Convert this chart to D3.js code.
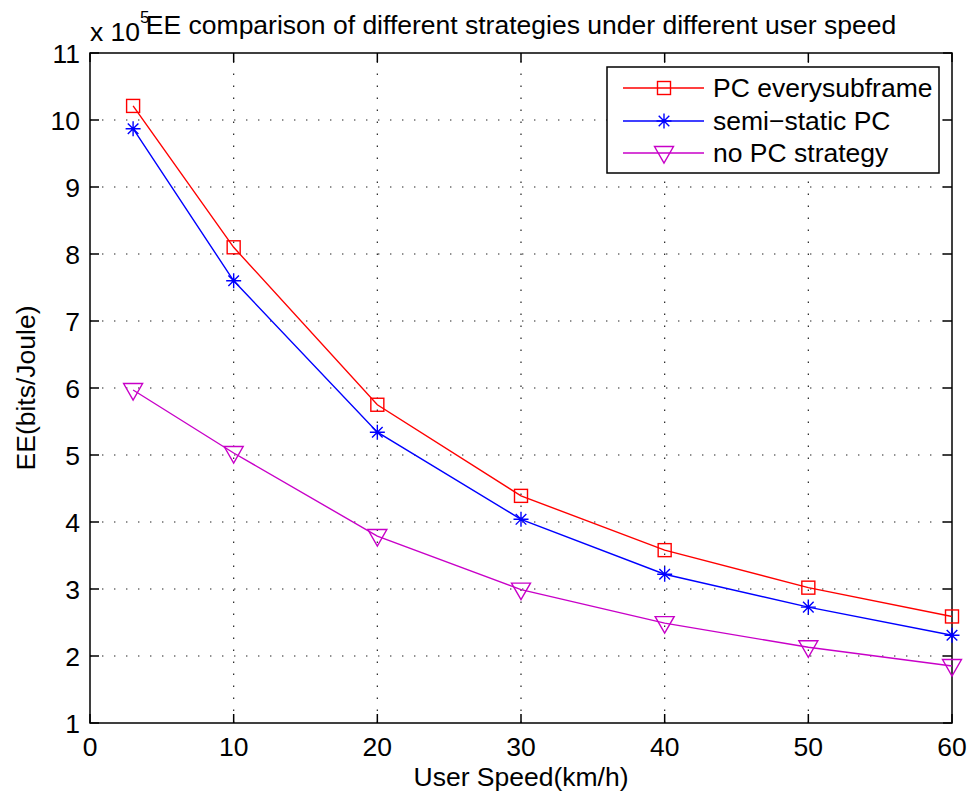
<!DOCTYPE html>
<html>
<head>
<meta charset="utf-8">
<script src="https://cdn.jsdelivr.net/npm/d3@7/dist/d3.min.js"></script>
<style>
  html, body { margin: 0; padding: 0; background: #fff; }
  svg { display: block; }
  text { font-family: "Liberation Sans", Arial, Helvetica, sans-serif; fill: #000; }
</style>
</head>
<body>
<svg id="chart" width="971" height="796"></svg>
<script>
// User speed (km/h) and energy efficiency in units of 1e5 bits/Joule
const speeds = [3, 10, 20, 30, 40, 50, 60];
const pcEverySubframe = [10.21, 8.10, 5.75, 4.39, 3.58, 3.02, 2.59];
const semiStaticPC = [9.87, 7.60, 5.34, 4.04, 3.22, 2.73, 2.31];
const noPCStrategy = [5.97, 5.03, 3.79, 2.99, 2.49, 2.13, 1.85];

const seriesNames = ["PC everysubframe", "semi\u2212static PC", "no PC strategy"];
const xTicks = [0, 10, 20, 30, 40, 50, 60];
const yTicks = [1, 2, 3, 4, 5, 6, 7, 8, 9, 10, 11];

const titleText = "EE comparison of different strategies under different user speed";
const xLabel = "User Speed(km/h)";
const yLabel = "EE(bits/Joule)";

const series = [
  { name: seriesNames[0], values: pcEverySubframe, color: "#ff0000", marker: "square" },
  { name: seriesNames[1], values: semiStaticPC, color: "#0000ff", marker: "asterisk" },
  { name: seriesNames[2], values: noPCStrategy, color: "#c800c8", marker: "triangle" }
];

const svg = d3.select("#chart");
const plot = { left: 90, right: 952, top: 53, bottom: 723 };

const x = d3.scaleLinear().domain([0, 60]).range([plot.left, plot.right]);
const y = d3.scaleLinear().domain([1, 11]).range([plot.bottom, plot.top]);

const FS = 26.5;     // font size

function label(parent, str, px, py, anchor, size, rotate) {
  return parent.append("text")
    .attr("transform", `translate(${px},${py})` + (rotate ? ` rotate(${rotate})` : ""))
    .attr("text-anchor", anchor || "start")
    .style("font-size", (size || FS) + "px")
    .text(str);
}

// dotted grid
const grid = svg.append("g");
grid.selectAll("line.gx").data(xTicks.slice(1, -1)).enter().append("line")
  .attr("x1", d => x(d)).attr("x2", d => x(d))
  .attr("y1", plot.bottom).attr("y2", plot.top)
  .attr("stroke", "#222").attr("stroke-width", 1.2)
  .attr("stroke-dasharray", "1.4,10.6");
grid.selectAll("line.gy").data(yTicks.slice(1, -1)).enter().append("line")
  .attr("x1", plot.left).attr("x2", plot.right)
  .attr("y1", d => y(d)).attr("y2", d => y(d))
  .attr("stroke", "#222").attr("stroke-width", 1.2)
  .attr("stroke-dasharray", "1.4,10.6");

// axes with inward ticks on all four sides
const tickLen = 9;
const axes = svg.append("g").attr("stroke", "#000").attr("stroke-width", 1.5);
xTicks.forEach(v => {
  axes.append("line").attr("x1", x(v)).attr("x2", x(v)).attr("y1", plot.bottom).attr("y2", plot.bottom - tickLen);
  axes.append("line").attr("x1", x(v)).attr("x2", x(v)).attr("y1", plot.top).attr("y2", plot.top + tickLen);
});
yTicks.forEach(v => {
  axes.append("line").attr("x1", plot.left).attr("x2", plot.left + tickLen).attr("y1", y(v)).attr("y2", y(v));
  axes.append("line").attr("x1", plot.right).attr("x2", plot.right - tickLen).attr("y1", y(v)).attr("y2", y(v));
});
axes.append("rect")
  .attr("x", plot.left).attr("y", plot.top)
  .attr("width", plot.right - plot.left).attr("height", plot.bottom - plot.top)
  .attr("fill", "none");

// tick labels
const labels = svg.append("g");
xTicks.forEach(v => label(labels, String(v), x(v), 756, "middle"));
yTicks.forEach(v => label(labels, String(v), 80, y(v) + 10, "end"));

// exponent note and titles
label(svg, "x 10", 90, 41, "start");
label(svg, "5", 140, 23, "start", 17);
label(svg, titleText, (plot.left + plot.right) / 2, 34, "middle");
label(svg, xLabel, (plot.left + plot.right) / 2, 786, "middle");
label(svg, yLabel, 35, (plot.top + plot.bottom) / 2, "middle", FS, -90);

// markers
function drawMarker(g, kind, cx, cy, color) {
  if (kind === "square") {
    g.append("rect").attr("x", cx - 6.5).attr("y", cy - 6.5).attr("width", 13).attr("height", 13)
      .attr("fill", "none").attr("stroke", color).attr("stroke-width", 1.4);
  } else if (kind === "asterisk") {
    const r = 7.5, d = 5.3;
    const p = `M${cx},${cy - r}L${cx},${cy + r}M${cx - r},${cy}L${cx + r},${cy}` +
      `M${cx - d},${cy - d}L${cx + d},${cy + d}M${cx - d},${cy + d}L${cx + d},${cy - d}`;
    g.append("path").attr("d", p).attr("fill", "none").attr("stroke", color).attr("stroke-width", 1.4);
  } else if (kind === "triangle") {
    const p = `M${cx - 9.5},${cy - 6.5}L${cx + 9.5},${cy - 6.5}L${cx},${cy + 10}Z`;
    g.append("path").attr("d", p).attr("fill", "none").attr("stroke", color).attr("stroke-width", 1.4);
  }
}

const line = d3.line().x((d, i) => x(speeds[i])).y(d => y(d));
const dataG = svg.append("g");
series.forEach(s => {
  dataG.append("path").attr("d", line(s.values)).attr("fill", "none")
    .attr("stroke", s.color).attr("stroke-width", 1.4);
  const mg = dataG.append("g");
  s.values.forEach((v, i) => drawMarker(mg, s.marker, x(speeds[i]), y(v), s.color));
});

// legend
const leg = svg.append("g");
leg.append("rect").attr("x", 607).attr("y", 67).attr("width", 332).attr("height", 106)
  .attr("fill", "#fff").attr("stroke", "#000").attr("stroke-width", 1.5);
const rowY = [88, 121, 153];
series.forEach((s, i) => {
  const cy = rowY[i];
  leg.append("line").attr("x1", 623).attr("x2", 704).attr("y1", cy).attr("y2", cy)
    .attr("stroke", s.color).attr("stroke-width", 1.4);
  drawMarker(leg, s.marker, 664, cy, s.color);
  label(leg, s.name, 713, cy + 9, "start");
});
</script>
</body>
</html>
